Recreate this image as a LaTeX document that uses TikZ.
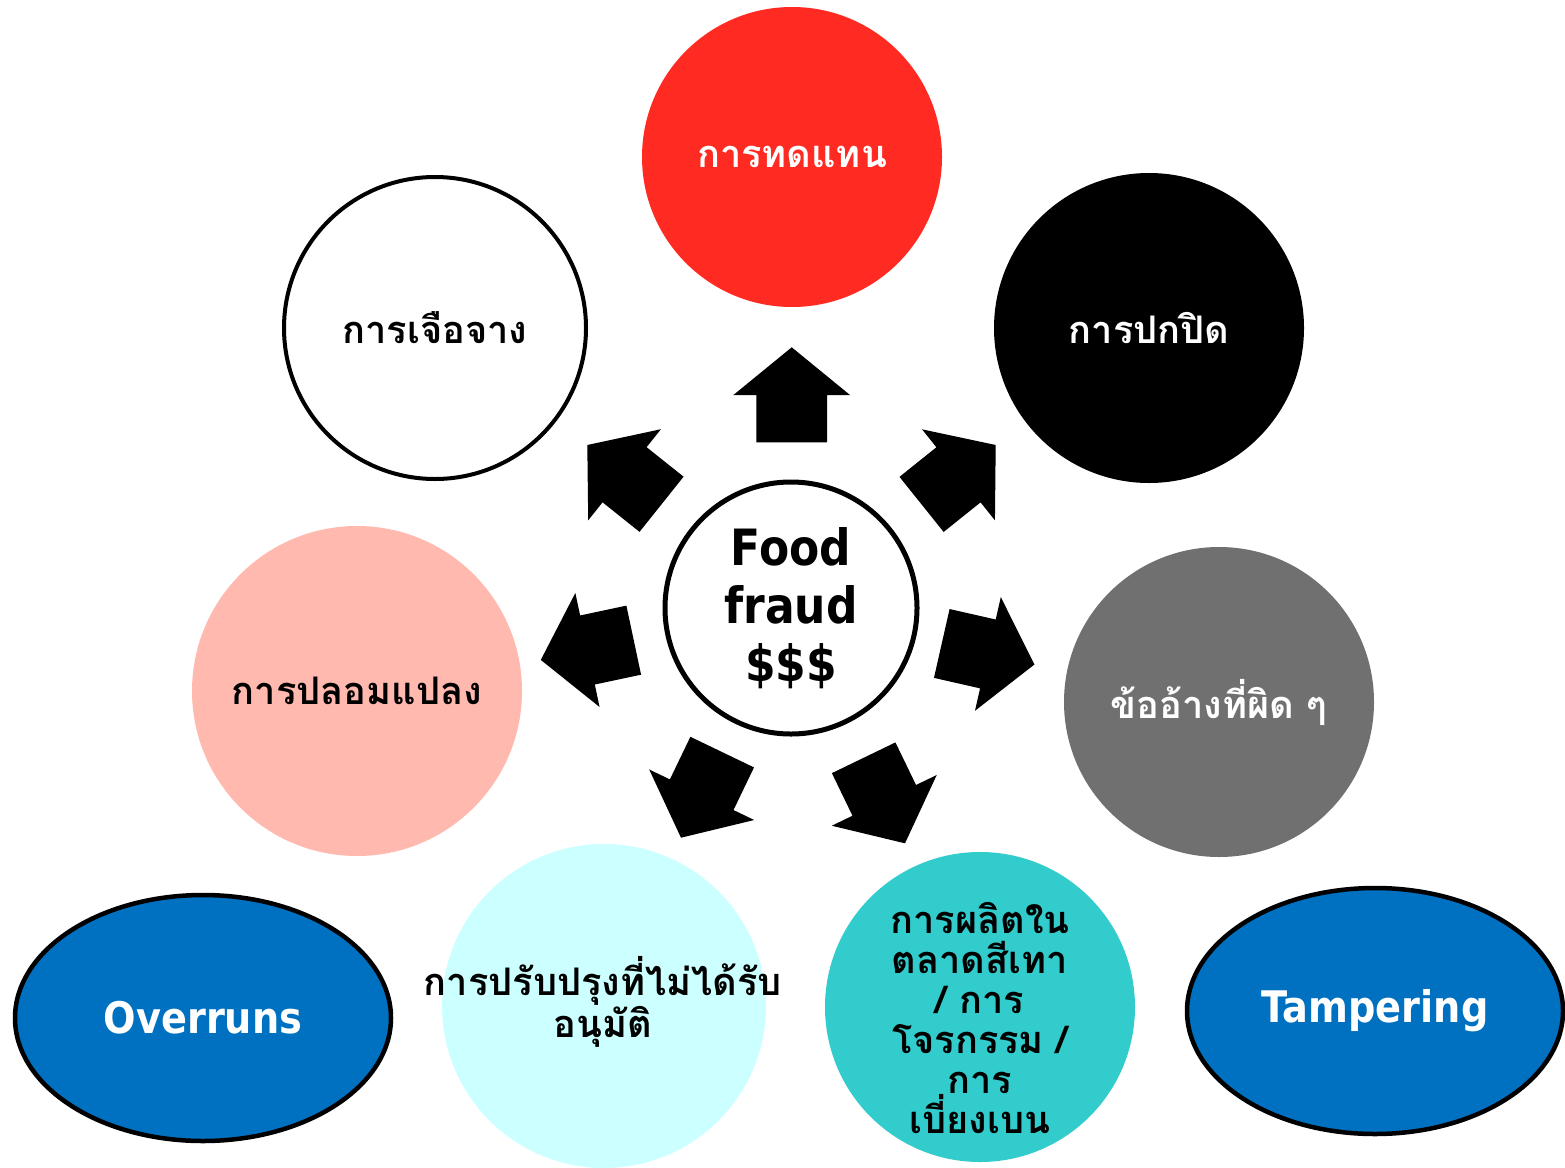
\documentclass[tikz,border=0pt]{standalone}
\usepackage{fontspec}
\usetikzlibrary{shapes.geometric}
\setmainfont[FakeStretch=0.88]{DejaVu Sans}
\newfontfamily\thaifont[Script=Thai]{Loma}
\definecolor{cred}{HTML}{FF2A22}
\definecolor{cpink}{HTML}{FFB9AE}
\definecolor{cgray}{HTML}{707070}
\definecolor{clcyan}{HTML}{CCFFFF}
\definecolor{cteal}{HTML}{33CCCC}
\definecolor{cblue}{HTML}{0070C0}
\tikzset{
  thaitext/.style={align=center, inner sep=0pt,
    font=\thaifont\bfseries\fontsize{38}{40}\selectfont},
  bubble/.style={circle, minimum size=#1, inner sep=0pt, thaitext},
  oval/.style={ellipse, draw=black, line width=4.5pt, fill=cblue, text=white,
    minimum width=376pt, minimum height=246pt, inner sep=0pt,
    font=\bfseries\fontsize{43.5}{50}\selectfont},
  blockarrow/.style={fill=black}
}
\newcommand\fraudarrow[3]{%
  \fill[blockarrow, shift={(#1,#2)}, rotate=#3]
    (0,0) -- (-47.7,58.3) -- (-47.7,35.3) -- (-95,35.3) -- (-95,-35.3)
    -- (-47.7,-35.3) -- (-47.7,-58.3) -- cycle;}
\begin{document}
\begin{tikzpicture}[x=1pt,y=-1pt]
\useasboundingbox (0,0) rectangle (1565,1167);
\fill[white] (0,0) rectangle (1565,1167);
% circles
\node[bubble=300pt, fill=cred, text=white] (subst) at (792,157) {การทดแทน};
\node[bubble=302pt, draw=black, line width=4pt, fill=white] (dilut) at (435,328) {การเจือจาง};
\node[bubble=310pt, fill=black, text=white] (conceal) at (1149,328) {การปกปิด};
\node[bubble=330pt, fill=cpink] (counterf) at (357,691) {การปลอมแปลง};
\node[bubble=310pt, fill=cgray, text=white] (claims) at (1219,702) {ข้ออ้างที่ผิด ๆ};
\node[bubble=324pt, fill=clcyan] (unapp) at (604,1006) {};
\node[thaitext] (unapptxt) at (603,1002) {การปรับปรุงที่ไม่ได้รับ\\อนุมัติ};
\node[bubble=310pt, fill=cteal] (grey) at (980,1007) {};
\node[thaitext] (greytxt) at (980,1018) {การผลิตใน\\ตลาดสีเทา\\/ การ\\โจรกรรม /\\การ\\เบี่ยงเบน};
\node[circle, draw=black, line width=5pt, fill=white, minimum size=252pt, inner sep=0pt,
  align=center, font=\bfseries\fontsize{50}{58}\selectfont] (food) at (791,608) {Food\\fraud\\\$\$\$};
\node[oval] (over) at (203,1018) {Overruns};
\node[oval] (tamp) at (1375,1011) {Tampering};
% arrows
\fraudarrow{791.7}{347.3}{90}
\fraudarrow{587.3}{445}{141.4}
\fraudarrow{540.8}{659.9}{192}
\fraudarrow{681}{837.7}{244.3}
\fraudarrow{905}{843.3}{295.8}
\fraudarrow{1034.4}{664.5}{347.2}
\fraudarrow{995.7}{445}{38.7}
\end{tikzpicture}
\end{document}
